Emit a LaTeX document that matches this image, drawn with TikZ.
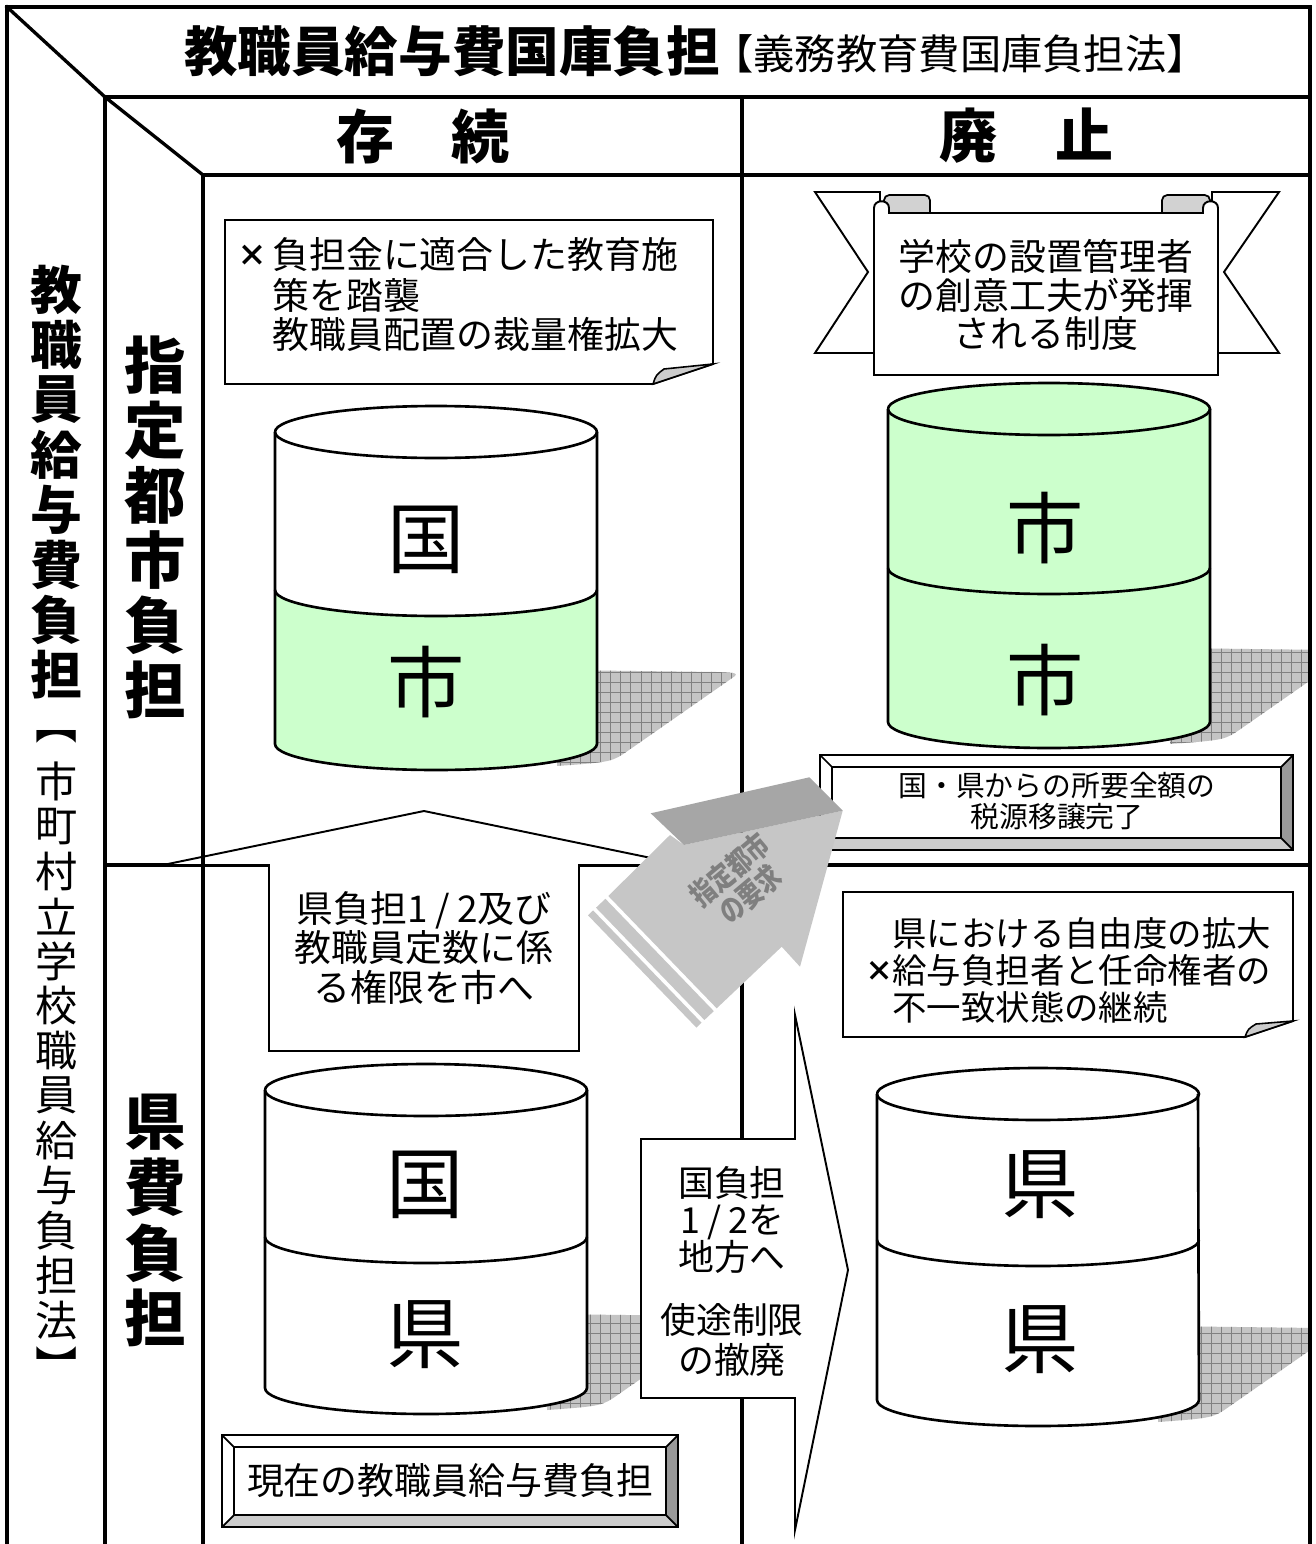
\documentclass[tikz,border=0pt]{standalone}
\usepackage{fontspec}
\setmainfont{Noto Sans CJK JP}
\usetikzlibrary{patterns.meta}
\definecolor{lgreen}{HTML}{CCFFCC}
\definecolor{afront}{HTML}{C6C6C6}
\definecolor{atop}{HTML}{A6A6A6}
\definecolor{atext}{HTML}{7F7F7F}
\definecolor{shgray}{HTML}{C4C4C4}
\definecolor{bdark}{HTML}{999999}
\definecolor{blight}{HTML}{CCCCCC}
\newcommand\fsz[2]{\fontsize{#1pt}{#2pt}\selectfont}
% cylinder: xl xr rx ry ytop ydiv ybot filltop fillbottom
\newcommand\mycyl[9]{%
  \fill[#9] (#1,#6) arc[start angle=180,end angle=360,x radius=#3,y radius=#4]
     -- (#2,#7) arc[start angle=0,end angle=-180,x radius=#3,y radius=#4] -- cycle;
  \fill[#8] (#1,#5) -- (#1,#6) arc[start angle=180,end angle=360,x radius=#3,y radius=#4]
     -- (#2,#5) arc[start angle=0,end angle=180,x radius=#3,y radius=#4] -- cycle;
  \draw[cylline] (#1,#5) arc[start angle=180,end angle=-180,x radius=#3,y radius=#4];
  \draw[cylline] (#1,#5) -- (#1,#7) arc[start angle=180,end angle=360,x radius=#3,y radius=#4] -- (#2,#5);
  \draw[cylline] (#1,#6) arc[start angle=180,end angle=360,x radius=#3,y radius=#4];
}
% shadow: xr yb
\newcommand\myshadow[2]{%
  \path[fill=shgray,postaction={pattern={Hatch[angle=0,distance=5.7pt,line width=0.5pt]},pattern color=gray}]
    ({#1-40},{#2-74}) -- ({#1+120},{#2-72}) .. controls ({#1+140},{#2-71}) .. ({#1+138},{#2-68})
    -- ({#1+32},{#2+6}) .. controls ({#1+15},{#2+18}) .. ({#1-40},{#2+22}) -- cycle;
}
% bevel box: x1 y1 x2 y2 d
\newcommand\mybevel[5]{%
  \fill[white] (#1,#2) rectangle (#3,#4);
  \fill[bdark] (#3,#2) -- (#3,#4) -- ({#3-#5},{#4-#5}) -- ({#3-#5},{#2+#5}) -- cycle;
  \fill[blight] (#1,#4) -- (#3,#4) -- ({#3-#5},{#4-#5}) -- ({#1+#5},{#4-#5}) -- cycle;
  \draw[bline] (#1,#2) rectangle (#3,#4);
  \draw[bline] ({#1+#5},{#2+#5}) rectangle ({#3-#5},{#4-#5});
  \draw[bline] (#1,#2) -- ({#1+#5},{#2+#5}) (#3,#2) -- ({#3-#5},{#2+#5})
    (#3,#4) -- ({#3-#5},{#4-#5}) (#1,#4) -- ({#1+#5},{#4-#5});
}
\begin{document}
\begin{tikzpicture}[x=0.02cm,y=-0.02cm,
  frame/.style={line width=1.9pt,line cap=rect},
  cylline/.style={line width=1.5pt},
  bline/.style={line width=1.0pt},
  box/.style={draw,line width=1.1pt,fill=white,line join=miter},
  txt/.style={inner sep=0pt},
  t21/.style={txt,font=\fsz{21}{22.4},align=center},
  lbl/.style={txt,font=\fsz{44}{44}},
  vb1/.style={txt,font=\fsz{29.5}{29.5}\bfseries},
  vr1/.style={txt,font=\fsz{24}{24}},
  vb2/.style={txt,font=\fsz{35}{35}\bfseries}]
\useasboundingbox (0,0) rectangle (1315,1544);
\fill[white] (0,0) rectangle (1315,1544);

% shadows
\myshadow{597}{744}
\myshadow{587}{1388}
\begin{scope}
  \clip (0,0) rectangle (1309,1544);
  \myshadow{1210}{722}
  \myshadow{1198}{1400}
\end{scope}

% cylinders
\mycyl{275}{597}{3.22cm}{0.52cm}{432}{590}{744}{white}{lgreen}
\mycyl{265}{587}{3.22cm}{0.52cm}{1090}{1237}{1388}{white}{white}
\mycyl{888}{1210}{3.22cm}{0.52cm}{409}{568}{722}{lgreen}{lgreen}
\mycyl{877}{1198}{3.22cm}{0.52cm}{1094}{1240}{1400}{white}{white}

% frame and grid
\draw[frame] (7,1544) -- (7,7) -- (1310,7) -- (1310,1544);
\draw[frame] (7,7) -- (105,97);
\draw[frame] (105,1544) -- (105,97) -- (1310,97);
\draw[frame] (105,97) -- (203,175);
\draw[frame] (203,175) -- (1310,175);
\draw[frame] (742,97) -- (742,1544);
\draw[frame] (105,865) -- (1310,865);
\draw[frame] (203,175) -- (203,1544);

% callout 1 (folded corner)
\draw[box] (225,220) -- (713,220) -- (713,364) -- (653,384) -- (225,384) -- cycle;
\draw[line width=0.9pt,fill=gray!40] (653,384) .. controls (656,375) .. (664,369) -- (713,364) -- cycle;

% banner
\draw[box] (815,192) -- (880,192) -- (880,353) -- (815,353) -- (868,272) -- cycle;
\draw[box] (1279,192) -- (1212,192) -- (1212,353) -- (1279,353) -- (1224,272) -- cycle;
\draw[line width=1pt,fill=gray!35,rounded corners=3pt] (884,195) rectangle (930,226);
\draw[line width=1pt,fill=gray!35,rounded corners=3pt] (1162,195) rectangle (1210,226);
\draw[box] (874,375) -- (874,208) .. controls (874,199) and (889,199) .. (889,208) -- (889,213)
  -- (1203,213) -- (1203,208) .. controls (1203,199) and (1218,199) .. (1218,208) -- (1218,375) -- cycle;

% bevel boxes
\mybevel{820}{755}{1293}{850}{12}
\mybevel{222}{1435}{678}{1527}{12}

% callout 2
\draw[box] (843,892) -- (1293,892) -- (1293,1021) -- (1245,1037) -- (843,1037) -- cycle;
\draw[line width=0.9pt,fill=gray!40] (1245,1037) .. controls (1248,1029) .. (1256,1024) -- (1293,1021) -- cycle;

% right arrow callout
\draw[box] (641,1139) -- (795,1139) -- (795,1015) -- (848,1270) -- (795,1530) -- (795,1398) -- (641,1398) -- cycle;

% house-shaped up arrow
\draw[box] (163,865) -- (424,811) -- (685,865) -- (579,865) -- (579,1051) -- (269,1051) -- (269,865) -- cycle;
\draw[frame] (203,835) -- (203,870);

% gray 3D arrow
\fill[afront] (605.4,898.8) -- (713.8,1011.1) -- (704.4,1020) -- (596,907.7) -- cycle;
\fill[afront] (593.1,910.4) -- (701.5,1022.7) -- (696.4,1027.6) -- (588,915.3) -- cycle;
\fill[afront] (684,845) -- (842.7,810.7) -- (800,966.7) -- (781.7,946.7) -- (716.7,1008.3) -- (608.3,896) -- (670,835) -- cycle;
\fill[atop] (650.7,813.3) -- (809.3,777.3) -- (842.7,810.7) -- (684,845) -- cycle;
\node[txt,rotate=40,font=\fsz{17}{18}\bfseries,text=atext,align=center] (yokyu) at (740,882)
  {\scalebox{0.78}[1]{指定都市}\\\scalebox{0.78}[1]{の要求}};

% title texts
\node[txt,font=\fsz{30.5}{30.5}\bfseries] (title) at (452,51) {教職員給与費国庫負担};
\node[txt,font=\fsz{23.5}{23.5}] (subtitle) at (960,54) {【義務教育費国庫負担法】};
\node[txt,font=\fsz{33}{33}\bfseries] (sonzoku) at (423,136) {存　続};
\node[txt,font=\fsz{33}{33}\bfseries] (haishi) at (1026,136) {廃　止};

% column 1 vertical text
\foreach \c [count=\i] in {教,職,員,給,与,費,負,担}
  \node[vb1] (ca\i) at (56,{235+55*\i}) {\c};
\foreach \c [count=\i] in {︻,市,町,村,立,学,校,職,員,給,与,負,担,法,︼}
  \node[vr1] (cb\i) at (57,{692+44.86*\i}) {\c};
% column 2 vertical text
\foreach \c [count=\i] in {指,定,都,市,負,担}
  \node[vb2] (cc\i) at (155,{300+65*\i}) {\c};
\foreach \c [count=\i] in {県,費,負,担}
  \node[vb2] (cd\i) at (155,{1057+65.3*\i}) {\c};

% callout 1 text
\node[txt,font=\fsz{17}{17}\bfseries] (x1) at (252,256) {×};
\node[txt,font=\fsz{21}{21},anchor=west] (c1a) at (272,255) {負担金に適合した教育施};
\node[txt,font=\fsz{21}{21},anchor=west] (c1b) at (272,295) {策を踏襲};
\node[txt,font=\fsz{21}{21},anchor=west] (c1c) at (272,334) {教職員配置の裁量権拡大};

% banner text
\node[t21,font=\fsz{21}{22.1}] (bann) at (1046,295) {学校の設置管理者\\の創意工夫が発揮\\される制度};

% cylinder labels
\node[lbl] (ka) at (426,540) {国};
\node[lbl] (kb) at (426,682) {市};
\node[lbl] (kc) at (1045,528) {市};
\node[lbl] (kd) at (1045,680) {市};
\node[lbl] (ke) at (425,1185) {国};
\node[lbl] (kf) at (425,1335) {県};
\node[lbl] (kg) at (1040,1185) {県};
\node[lbl] (kh) at (1040,1340) {県};

% other texts
\node[txt,font=\fsz{16.4}{18.1},align=center] (zeigen) at (1057,801) {国・県からの所要全額の\\税源移譲完了};
\node[t21] (house) at (424,948) {県負担1\hspace{0.2em}/\hspace{0.2em}2及び\\教職員定数に係\\る権限を市へ};
\node[txt,font=\fsz{21}{21}] (genzai) at (450,1481) {現在の教職員給与費負担};
\node[txt,font=\fsz{20.4}{21.3},align=center] (kokua) at (732,1220) {国負担\\1\hspace{0.2em}/\hspace{0.2em}2を\\地方へ};
\node[txt,font=\fsz{20.4}{22.6},align=center] (kokub) at (732,1340) {使途制限\\の撤廃};
\node[txt,font=\fsz{16}{16}\bfseries] (x2) at (880,971) {×};
\node[txt,font=\fsz{19.6}{19.6},anchor=west] (c2a) at (892,933) {県における自由度の拡大};
\node[txt,font=\fsz{19.6}{19.6},anchor=west] (c2b) at (892,970) {給与負担者と任命権者の};
\node[txt,font=\fsz{19.6}{19.6},anchor=west] (c2c) at (892,1007) {不一致状態の継続};
\end{tikzpicture}
\end{document}
